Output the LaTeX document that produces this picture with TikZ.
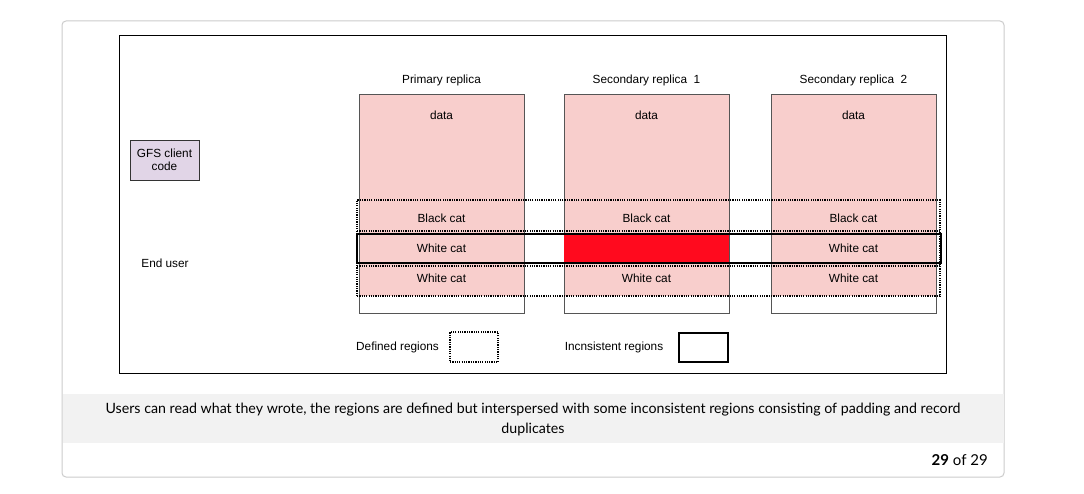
\documentclass[tikz,border=0pt]{standalone}
\usepackage{fontspec}
\setmainfont{Liberation Sans}
\newfontfamily\capfont{Lato}
\definecolor{pinkfill}{HTML}{F8CECC}
\definecolor{redfill}{HTML}{FF0A1E}
\definecolor{purplefill}{HTML}{E1D5E7}
\definecolor{cardline}{HTML}{CCCCCC}
\definecolor{capbg}{HTML}{F2F2F2}
\definecolor{colline}{HTML}{555555}
\begin{document}
\begin{tikzpicture}[x=1pt,y=-1pt,
  lbl/.style={font=\fontsize{11.8}{13.5}\selectfont, inner sep=0pt},
  box/.style={inner sep=0pt, outer sep=0pt, anchor=north west},
  colbox/.style={box, draw=colline, line width=1pt, minimum width=165pt, minimum height=218pt},
  defline/.style={line width=1.4pt, dash pattern=on 1.2pt off 1.1pt},
  incline/.style={line width=2pt, draw=black}
]
\useasboundingbox (0,0) rectangle (1084,494);
\fill[white] (0,0) rectangle (1084,494);
% card
\node[box, draw=cardline, line width=1pt, rounded corners=4pt, minimum width=942pt, minimum height=456pt] (card) at (62,21) {};
\node[box, fill=capbg, minimum width=941pt, minimum height=49pt] (capband) at (62.5,394) {};
% frame
\node[box, draw=black, line width=1pt, minimum width=827pt, minimum height=337pt] (frame) at (119,36) {};
% columns
\foreach \x/\n/\t in {359/pr/Primary replica, 564/s1/Secondary replica~~1, 771/s2/Secondary replica~~2}{
  \fill[pinkfill] (\x,95) rectangle ++(165,201);
  \node[colbox] (\n) at (\x,95) {};
  \node[lbl] (\n-title) at (\x+82.5,80) {\t};
  \node[lbl] (\n-data) at (\x+82.5,115) {data};
}
\node[box, fill=redfill, minimum width=165pt, minimum height=29pt] (s1-red) at (564,234) {};
% row labels
\foreach \n/\cx in {pr/441.5, s1/646.5, s2/853.5}{
  \node[lbl] (\n-black) at (\cx,218) {Black cat};
  \node[lbl] (\n-white1) at (\cx,278) {White cat};
}
\node[lbl] (pr-white) at (441.5,248) {White cat};
\node[lbl] (s2-white) at (853.5,248) {White cat};
% defined regions (dotted)
\node[box, draw=black, defline, minimum width=583pt, minimum height=96pt] (defall) at (357,200) {};
\coordinate (d1l) at (357,231); \coordinate (d1r) at (940,231);
\coordinate (d2l) at (357,266); \coordinate (d2r) at (940,266);
\draw[defline] (d1l) -- (d1r);
\draw[defline] (d2l) -- (d2r);
% inconsistent region
\node[box, incline, minimum width=584pt, minimum height=29pt] (inc) at (356.5,234) {};
% client
\node[box, draw=black!80, line width=0.8pt, fill=purplefill, minimum width=69pt, minimum height=40pt] (client) at (130,140) {};
\node[lbl, align=center] (clienttext) at (client.center) {GFS client\\code};
\node[lbl] (enduser) at (165,263) {End user};
% legend
\node[lbl] (deflbl) at (397.5,347) {Defined regions};
\node[box, draw=black, defline, minimum width=48pt, minimum height=30pt] (defkey) at (450,332) {};
\node[lbl] (inclbl) at (614,347) {Incnsistent regions};
\node[box, incline, minimum width=49pt, minimum height=29pt] (inckey) at (679,333) {};
% caption
\node[inner sep=0pt, align=center, font=\capfont\fontsize{14.2}{20}\selectfont] (caption) at (533,419) {Users can read what they wrote, the regions are defined but interspersed with some inconsistent regions consisting of padding and record\\duplicates};
\node[inner sep=0pt, anchor=east, font=\capfont\fontsize{15}{17}\selectfont] (pagenum) at (988,460) {\textbf{29} of 29};
\end{tikzpicture}
\end{document}
